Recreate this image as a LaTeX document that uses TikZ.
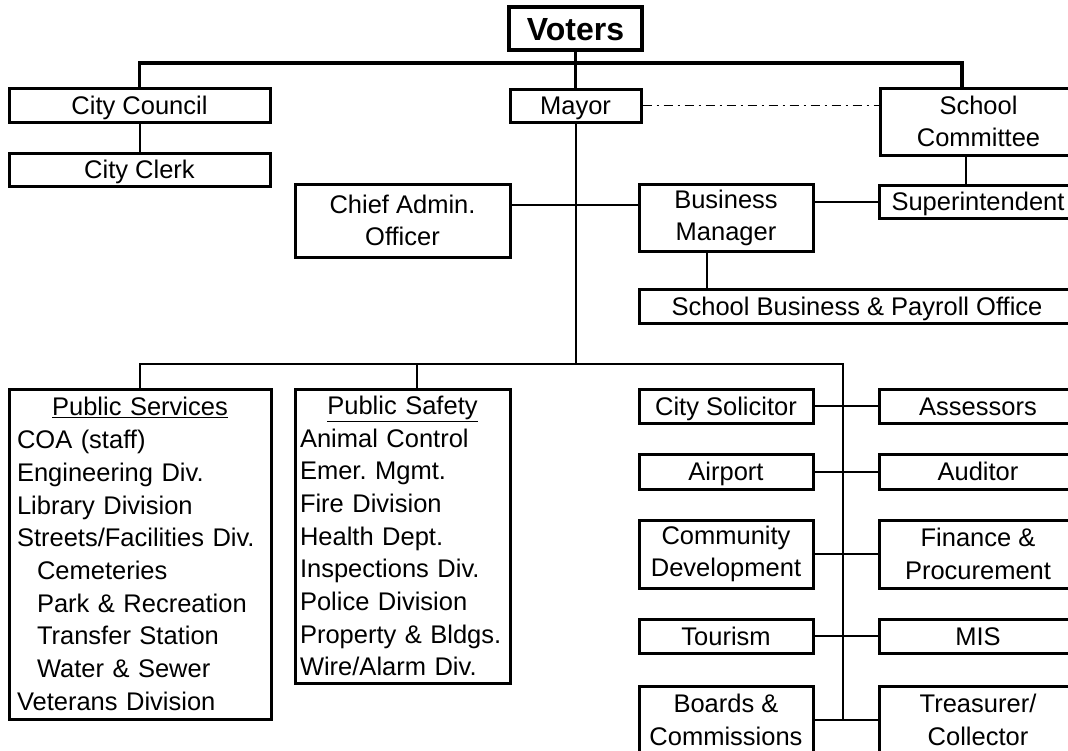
\documentclass[tikz,border=0pt]{standalone}
\usepackage{fontspec}
\setmainfont{Liberation Sans}
\frenchspacing
\newcommand{\orgsize}{\fontsize{25.5}{32.7}\selectfont}
\tikzset{
  unit/.style={draw, line width=3pt, inner sep=4pt, minimum height=34pt, font=\orgsize, text height=20pt, text depth=2pt},
  multi/.style={text height={}, text depth={}, align=center},
  bus/.style={line width=3.3pt},
  link/.style={line width=2pt},
  liaison/.style={line width=1.5pt, dash pattern=on 9pt off 5pt on 2pt off 5pt},
}
\begin{document}
\begin{tikzpicture}[x=1pt, y=-1pt]
    \useasboundingbox (0,0) rectangle (1068,750);
    \clip (0,0) rectangle (1068,750);

    % Top level
    \node[unit, line width=4pt, minimum width=133pt, minimum height=43pt, text height=24pt, text depth=1pt, font=\bfseries\fontsize{32}{36}\selectfont] (voters) at (575.5,28.5) {Voters};
    \node[unit, minimum width=261pt] (council) at (139.5,105) {City Council};
    \node[unit, minimum width=261pt, minimum height=33pt] (clerk) at (139.5,169.5) {City Clerk};
    \node[unit, minimum width=131pt, minimum height=33pt] (mayor) at (575.5,105.5) {Mayor};
    \node[unit, multi, minimum width=197pt, minimum height=67pt] (committee) at (978.5,121.5) {School\\Committee};
    \node[unit, minimum width=198pt, minimum height=33pt] (super) at (978,201.5) {Superintendent};

    % Mayor's office
    \node[unit, multi, minimum width=215pt, minimum height=73pt] (chief) at (402.5,220.5) {Chief Admin.\\Officer};
    \node[unit, multi, minimum width=174pt, minimum height=67pt] (business) at (726,218) {Business\\Manager};
    \node[unit, minimum width=436pt] (payroll) at (857,306) {School Business \& Payroll Office};

    % Departments
    \node[unit, multi, align=left, minimum width=262pt, minimum height=330pt, text width=246pt] (services) at (140,554) {%
      \makebox[\linewidth]{\underline{Public Services}}\\
      COA (staff)\\
      Engineering Div.\\
      Library Division\\
      Streets/Facilities Div.\\
      \hspace*{20pt}Cemeteries\\
      \hspace*{20pt}Park \& Recreation\\
      \hspace*{20pt}Transfer Station\\
      \hspace*{20pt}Water \& Sewer\\
      Veterans Division};
    \node[unit, multi, align=left, minimum width=215pt, minimum height=294pt, text width=205pt, inner sep=2pt] (safety) at (402.5,536) {%
      \makebox[\linewidth]{\underline{Public Safety}}\\
      Animal Control\\
      Emer. Mgmt.\\
      Fire Division\\
      Health Dept.\\
      Inspections Div.\\
      Police Division\\
      Property \& Bldgs.\\
      Wire/Alarm Div.};

    % Right column
    \node[unit, minimum width=174pt] (solicitor) at (726,406) {City Solicitor};
    \node[unit, minimum width=198pt] (assessors) at (978,406) {Assessors};
    \node[unit, minimum width=174pt, minimum height=35pt] (airport) at (726,471.5) {Airport};
    \node[unit, minimum width=198pt, minimum height=35pt] (auditor) at (978,471.5) {Auditor};
    \node[unit, multi, minimum width=174pt, minimum height=68pt] (community) at (726,554) {Community\\Development};
    \node[unit, multi, minimum width=198pt, minimum height=68pt] (finance) at (978,554) {Finance \&\\Procurement};
    \node[unit, minimum width=174pt] (tourism) at (726,636) {Tourism};
    \node[unit, minimum width=198pt] (mis) at (978,636) {MIS};
    \node[unit, multi, minimum width=174pt, minimum height=68pt] (boards) at (726,720) {Boards \&\\Commissions};
    \node[unit, multi, minimum width=198pt, minimum height=68pt] (treasurer) at (978,720) {Treasurer/\\Collector};

    % Top bus
    \coordinate (topbus) at (575.5,63);
    \draw[bus] (voters.south) -- (topbus) -- (mayor.north);
    \draw[bus] (council.north) |- ([xshift=-16.5pt]committee.north |- topbus) -- ([xshift=-16.5pt]committee.north);

    % Lines under the top level
    \draw[link] (council.south) -- (clerk.north);
    \draw[liaison] (mayor.east) -- (committee.west |- mayor.east);
    \draw[link] ([xshift=-13pt]committee.south) -- ([xshift=-13pt]committee.south |- super.north);
    \draw[link] ([yshift=16pt]chief.east) -- ([yshift=16pt]chief.east -| business.west);
    \draw[link] (business.east |- super.west) -- (super.west);
    \draw[link] ([xshift=-19pt]business.south) -- ([xshift=-19pt]business.south |- payroll.north);

    % Lower bus and spine
    \coordinate (lowbus) at (843,364);
    \draw[link] (mayor.south) -- (mayor.south |- lowbus);
    \draw[link] (services.north) |- (lowbus) -- (lowbus |- boards.east);
    \draw[link] ([xshift=14.5pt]safety.north) -- ([xshift=14.5pt]safety.north |- lowbus);
    \foreach \left/\right in {solicitor/assessors, airport/auditor, community/finance, tourism/mis, boards/treasurer}
      \draw[link] (\left.east) -- (\right.west);
\end{tikzpicture}
\end{document}
